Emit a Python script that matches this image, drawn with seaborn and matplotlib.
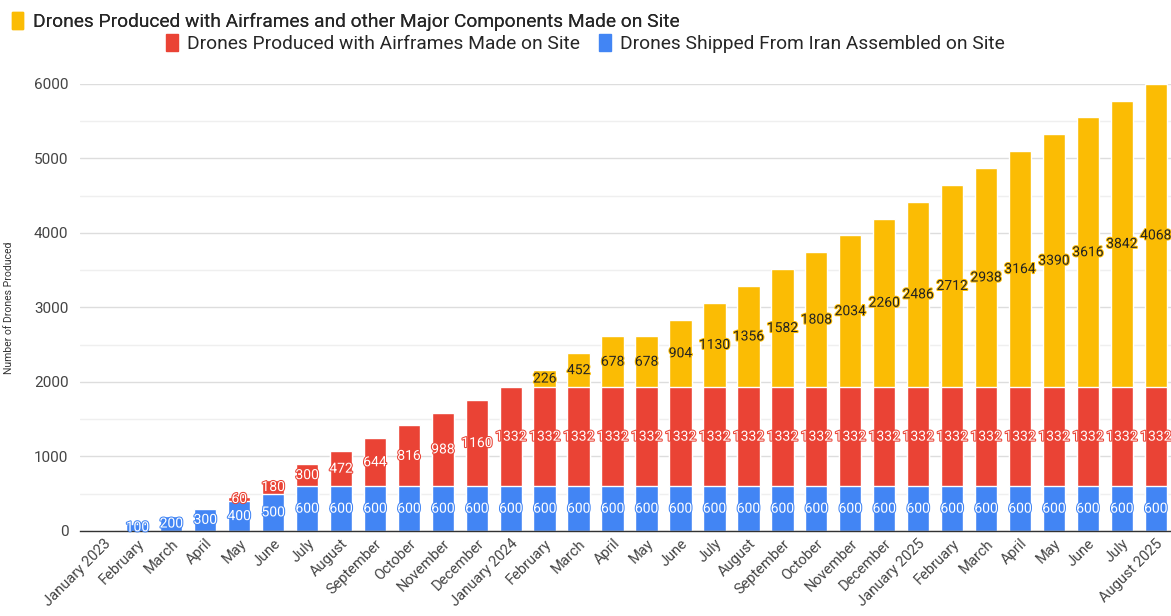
import matplotlib
matplotlib.use("Agg")
import matplotlib.pyplot as plt
import matplotlib.patheffects as pe
import seaborn as sns
import pandas as pd
from matplotlib.patches import Patch

# ─────────────────────────────────────────
# DATA
# ─────────────────────────────────────────
months = [
    "January 2023", "February", "March", "April", "May", "June", "July",
    "August", "September", "October", "November", "December",
    "January 2024", "February", "March", "April", "May", "June", "July",
    "August", "September", "October", "November", "December",
    "January 2025", "February", "March", "April", "May", "June", "July",
    "August 2025",
]
shippedIran = [0, 100, 200, 300, 400, 500] + [600] * 26
airframesOnSite = [0, 0, 0, 0, 60, 180, 300, 472, 644, 816, 988, 1160] + [1332] * 20
majorComponents = [0] * 13 + [226, 452, 678, 678, 904, 1130, 1356, 1582, 1808,
                              2034, 2260, 2486, 2712, 2938, 3164, 3390, 3616,
                              3842, 4068]

labelYellow = "Drones Produced with Airframes and other Major Components Made on Site"
labelRed = "Drones Produced with Airframes Made on Site"
labelBlue = "Drones Shipped From Iran Assembled on Site"

colorYellow = "#FBBC04"
colorRed = "#EA4335"
colorBlue = "#4285F4"

df = pd.DataFrame({
    "month": months,
    "blue": shippedIran,
    "red": airframesOnSite,
    "yellow": majorComponents,
})
df["pos"] = range(len(df))
df["redTop"] = df["blue"] + df["red"]
df["total"] = df["redTop"] + df["yellow"]

# ─────────────────────────────────────────
# PLOT
# ─────────────────────────────────────────
sns.set_theme(style="white")
plt.rcParams["font.family"] = ["Roboto", "DejaVu Sans"]

fig = plt.figure(figsize=(11.71, 6.16), dpi=100)
ax = fig.add_axes([0.068, 0.138, 0.932, 0.726])

# stacked look: draw the tallest layer first, smaller ones on top
barWidth = 0.66
sns.barplot(data=df, x="pos", y="total", color=colorYellow, width=barWidth,
            saturation=1, ax=ax, native_scale=True)
sns.barplot(data=df, x="pos", y="redTop", color=colorRed, width=barWidth,
            saturation=1, ax=ax, native_scale=True)
sns.barplot(data=df, x="pos", y="blue", color=colorBlue, width=barWidth,
            saturation=1, ax=ax, native_scale=True)


def segLabel(x, y, value, textColor, haloColor):
    # label with a thin halo in the bar colour, like the sheets chart
    ax.text(x, y, str(value), ha="center", va="center", color=textColor,
            fontsize=10, zorder=5,
            path_effects=[pe.withStroke(linewidth=1.5, foreground=haloColor)])


for _, row in df.iterrows():
    if row["blue"] > 0:
        segLabel(row["pos"], row["blue"] / 2, row["blue"], "white", colorBlue)
    if row["red"] > 0:
        segLabel(row["pos"], row["blue"] + row["red"] / 2, row["red"], "white", colorRed)
    if row["yellow"] > 0:
        segLabel(row["pos"], row["redTop"] + row["yellow"] / 2, row["yellow"],
                 "#222222", colorYellow)

ax.set_xlim(-0.7, 31.45)
ax.set_ylim(0, 6000)
ax.set_xticks(df["pos"])
ax.set_xticklabels(months, rotation=45, ha="right", rotation_mode="anchor",
                   fontsize=10.5, color="#444444")
ax.set_yticks(range(0, 6001, 1000))
ax.set_yticks(range(500, 6000, 1000), minor=True)
ax.tick_params(axis="y", labelsize=11, labelcolor="#444444", length=0, pad=8)
ax.tick_params(axis="x", length=0, pad=4)
ax.grid(axis="y", which="major", color="#DDDDDD", linewidth=1)
ax.grid(axis="y", which="minor", color="#EFEFEF", linewidth=1)
ax.set_axisbelow(True)
for side in ["top", "right", "left"]:
    ax.spines[side].set_visible(False)
ax.spines["bottom"].set_color("#333333")
ax.spines["bottom"].set_linewidth(1)

ax.set_xlabel("")
ax.set_ylabel("Number of Drones Produced", fontsize=7.5, color="#333333", labelpad=14)

# legend: two rows, first left aligned, second centred
legendStyle = dict(frameon=False, fontsize=13.8, handlelength=0.6, handleheight=1.0,
                   handletextpad=0.5, borderaxespad=0.2)
leg1 = fig.legend(handles=[Patch(color=colorYellow, label=labelYellow)],
                  loc="upper left", bbox_to_anchor=(0.0, 1.0), **legendStyle)
fig.legend(handles=[Patch(color=colorRed, label=labelRed),
                    Patch(color=colorBlue, label=labelBlue)],
           loc="upper center", bbox_to_anchor=(0.5, 0.963), ncol=2,
           columnspacing=1.0, **legendStyle)
fig.add_artist(leg1)

plt.savefig("out.png", dpi=100)
plt.close()
